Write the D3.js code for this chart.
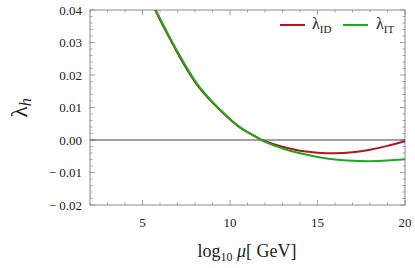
<!DOCTYPE html>
<html>
<head>
<meta charset="utf-8">
<script src="https://cdn.jsdelivr.net/npm/d3@7"></script>
<style>
  body { margin: 0; background: #fff; }
</style>
</head>
<body>
<div id="chart-area"></div>
<script>
// data
var muLog = [5.5, 6, 6.5, 7, 7.5, 8, 8.5, 9, 9.5, 10, 10.5, 11, 11.5, 12, 13, 14, 15, 16, 17, 18, 19, 20];
var lambdaID = [0.0425, 0.0370, 0.0318, 0.0268, 0.0221, 0.0179, 0.0144, 0.0115, 0.0088, 0.0063, 0.0041, 0.0024, 0.0010, -0.0004,
                -0.0021, -0.0033, -0.0039, -0.0041, -0.0038, -0.0030, -0.0018, -0.0004];
var lambdaIT = [0.0429, 0.0374, 0.0322, 0.0272, 0.0225, 0.0182, 0.0147, 0.0117, 0.0090, 0.0065, 0.0042, 0.0024, 0.0009, -0.0006,
                -0.0026, -0.0041, -0.0052, -0.0060, -0.0064, -0.0065, -0.0063, -0.0059];
var xTicks = [5, 10, 15, 20];
var yTicks = [-0.02, -0.01, 0.00, 0.01, 0.02, 0.03, 0.04];

var margin = { left:90, right:10, top:10, bottom:63 };
var width = 415 - margin.left - margin.right,
    height = 268 - margin.top - margin.bottom;

var serif = "'Liberation Serif', 'Times New Roman', 'DejaVu Serif', serif";

var svg = d3.select("#chart-area")
    .append("svg")
        .attr("width", 415)
        .attr("height", 268)
        .attr("font-family", serif);

var g = svg.append("g")
    .attr("transform", "translate(" + margin.left + ", " + margin.top + ")");

var x = d3.scaleLinear().domain([2, 20]).range([0, width]);
var y = d3.scaleLinear().domain([-0.02, 0.04]).range([height, 0]);

var frameColor = "#8a8a8a";

// clip for curves
g.append("clipPath").attr("id", "clip")
  .append("rect").attr("width", width).attr("height", height);

// minor + major ticks on all four sides (pointing inward)
var xMinor = d3.range(2, 21, 1);
var yMinor = d3.range(-0.02, 0.0401, 0.002);

function isMajorX(v){ return Math.abs(v % 5) < 1e-9; }
function isMajorY(v){ return Math.abs(Math.round(v * 100) - v * 100) < 1e-6; }

var ticks = g.append("g").attr("stroke", frameColor).attr("stroke-width", 0.8);
xMinor.forEach(function(v){
  var len = isMajorX(v) ? 5 : 2.5;
  ticks.append("line").attr("x1", x(v)).attr("x2", x(v)).attr("y1", height).attr("y2", height - len);
  ticks.append("line").attr("x1", x(v)).attr("x2", x(v)).attr("y1", 0).attr("y2", len);
});
yMinor.forEach(function(v){
  var len = isMajorY(v) ? 5 : 2.5;
  ticks.append("line").attr("y1", y(v)).attr("y2", y(v)).attr("x1", 0).attr("x2", len);
  ticks.append("line").attr("y1", y(v)).attr("y2", y(v)).attr("x1", width).attr("x2", width - len);
});

// frame
g.append("rect")
  .attr("width", width).attr("height", height)
  .attr("fill", "none").attr("stroke", frameColor).attr("stroke-width", 1);

// zero line
g.append("line")
  .attr("x1", 0).attr("x2", width)
  .attr("y1", y(0)).attr("y2", y(0))
  .attr("stroke", "#444").attr("stroke-width", 1.2);

// tick labels
g.selectAll(".xlab").data(xTicks).enter().append("text")
  .attr("x", function(d){ return x(d); })
  .attr("y", height + 22)
  .attr("text-anchor", "middle")
  .attr("font-size", "13px")
  .attr("fill", "#222")
  .text(function(d){ return d; });

g.selectAll(".ylab").data(yTicks).enter().append("text")
  .attr("x", -8)
  .attr("y", function(d){ return y(d) + 4.5; })
  .attr("text-anchor", "end")
  .attr("font-size", "13px")
  .attr("fill", "#222")
  .text(function(d){
    var s = Math.abs(d).toFixed(2);
    return d < 0 ? "\u2212 " + s : s;
  });

// curves
var line = d3.line()
  .x(function(d){ return x(d[0]); })
  .y(function(d){ return y(d[1]); })
  .curve(d3.curveNatural);

var curves = g.append("g").attr("clip-path", "url(#clip)");
curves.append("path")
  .attr("d", line(d3.zip(muLog, lambdaID)))
  .attr("fill", "none").attr("stroke", "#b0191c").attr("stroke-width", 2);
curves.append("path")
  .attr("d", line(d3.zip(muLog, lambdaIT)))
  .attr("fill", "none").attr("stroke", "#1ea81e").attr("stroke-width", 2);

// legend
var leg = g.append("g").attr("transform", "translate(0, 15)");
leg.append("line").attr("x1", 190).attr("x2", 215).attr("y1", 0).attr("y2", 0)
  .attr("stroke", "#b0191c").attr("stroke-width", 2);
var t1 = leg.append("text").attr("x", 222).attr("y", 4).attr("font-size", "16px").attr("fill", "#222");
t1.append("tspan").text("\u03BB");
t1.append("tspan").attr("font-size", "11px").attr("dy", 4).text("ID");
leg.append("line").attr("x1", 253).attr("x2", 278).attr("y1", 0).attr("y2", 0)
  .attr("stroke", "#1ea81e").attr("stroke-width", 2);
var t2 = leg.append("text").attr("x", 286).attr("y", 4).attr("font-size", "16px").attr("fill", "#222");
t2.append("tspan").text("\u03BB");
t2.append("tspan").attr("font-size", "11px").attr("dy", 4).text("IT");

// y label
var yLabel = svg.append("text")
  .attr("transform", "translate(27, 108) rotate(-90)")
  .attr("text-anchor", "middle")
  .attr("font-size", "24px")
  .attr("fill", "#222");
yLabel.append("tspan").text("\u03BB");
yLabel.append("tspan").attr("font-size", "16px").attr("font-style", "italic").attr("dy", 4).text("h");

// x label
var xLabel = svg.append("text")
  .attr("x", 247)
  .attr("y", 257)
  .attr("text-anchor", "middle")
  .attr("font-size", "18px")
  .attr("fill", "#222");
xLabel.append("tspan").text("log");
xLabel.append("tspan").attr("font-size", "12px").attr("dy", 4).text("10");
xLabel.append("tspan").attr("dy", -4).attr("font-style", "italic").text(" \u03BC");
xLabel.append("tspan").text("[ GeV]");
</script>
</body>
</html>
